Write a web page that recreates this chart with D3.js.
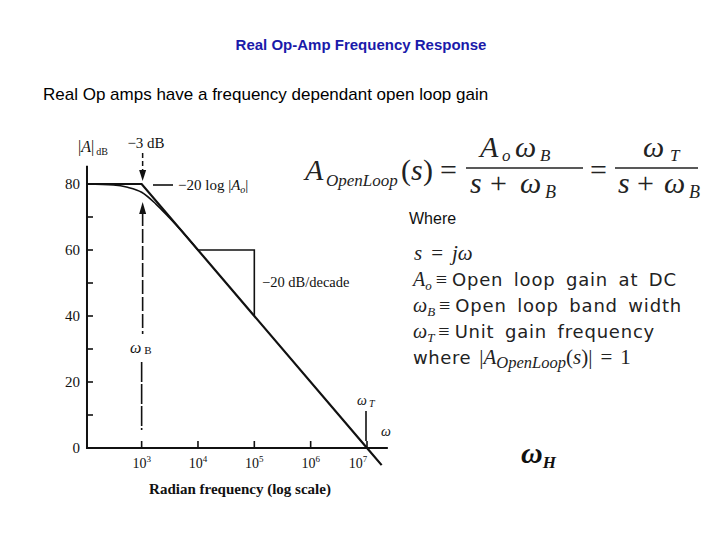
<!DOCTYPE html>
<html>
<head>
<meta charset="utf-8">
<script src="https://cdn.jsdelivr.net/npm/d3@7"></script>
<style>
  body { margin: 0; background: #fff; }
</style>
</head>
<body>
<script>
let w = 720;
let h = 540;

// axis ticks
const freqTicks = [1e3, 1e4, 1e5, 1e6, 1e7];
const freqExp = ["3", "4", "5", "6", "7"];
const gainTicks = [0, 20, 40, 60, 80];
const gainMinor = [10, 30, 50, 70];

// straight-line (asymptotic) response
const asymFreq = [10 ** 2.03, 1e3, 1e7, 10 ** 7.26];
const asymGain = [80, 80, 0, -5.2];

// real response near the corner
const realFreq = [10 ** 2.03, 10 ** 2.5, 10 ** 2.75, 1e3, 10 ** 3.25, 10 ** 3.5, 10 ** 3.75, 1e4];
const realGain = [80, 79.7, 79, 77.5, 74, 69.6, 65, 60];

const defs = [
  { math: "A", sub: "o", text: "Open loop gain at DC" },
  { math: "ω", sub: "B", text: "Open loop band width" },
  { math: "ω", sub: "T", text: "Unit gain frequency" },
];

let svg = d3.select("body").append("svg").attr("width", w).attr("height", h);

//scales
let x = d3.scaleLog().domain([1e2, 1e7]).range([85.3, 367]);
let y = d3.scaleLinear().domain([0, 80]).range([448, 184]);

const serif = "'Liberation Serif', 'Times New Roman', serif";
const sans = "'Liberation Sans', Arial, sans-serif";
const dsans = "'DejaVu Sans', sans-serif";

//titles
svg.append("text")
  .attr("x", 361).attr("y", 50)
  .attr("text-anchor", "middle")
  .attr("font-family", sans).attr("font-weight", "bold").attr("font-size", 15)
  .attr("fill", "#1a1aaa")
  .text("Real Op-Amp Frequency Response");

svg.append("text")
  .attr("x", 43).attr("y", 100)
  .attr("font-family", sans).attr("font-size", 17)
  .attr("fill", "#000")
  .text("Real Op amps have a frequency dependant open loop gain");

//axes
let chart = svg.append("g").attr("stroke", "#111").attr("fill", "none");

chart.append("line")
  .attr("x1", x(10 ** 2.03)).attr("x2", x(10 ** 2.03))
  .attr("y1", y(85.5)).attr("y2", y(0) + 1)
  .attr("stroke-width", 2);

chart.append("line")
  .attr("x1", x(10 ** 2.03)).attr("x2", x(10 ** 7.37))
  .attr("y1", y(0)).attr("y2", y(0))
  .attr("stroke-width", 2);

chart.selectAll(".ytick")
  .data(gainTicks.concat(gainMinor))
  .enter()
  .append("line")
  .attr("x1", x(10 ** 2.03)).attr("x2", x(10 ** 2.03) + 6)
  .attr("y1", function (d) { return y(d); })
  .attr("y2", function (d) { return y(d); })
  .attr("stroke-width", 1.6);

chart.selectAll(".xtick")
  .data(freqTicks)
  .enter()
  .append("line")
  .attr("x1", function (d) { return x(d); })
  .attr("x2", function (d) { return x(d); })
  .attr("y1", y(0)).attr("y2", y(0) - 7)
  .attr("stroke-width", 1.6);

//tick labels
svg.selectAll(".ylab")
  .data(gainTicks)
  .enter()
  .append("text")
  .attr("x", 80)
  .attr("y", function (d) { return y(d) + 5; })
  .attr("text-anchor", "end")
  .attr("font-family", serif).attr("font-size", 15)
  .attr("fill", "#111")
  .text(function (d) { return d; });

let xl = svg.selectAll(".xlab")
  .data(freqTicks)
  .enter()
  .append("text")
  .attr("x", function (d, i) { return x(d) + (i === 4 ? -9 : 0); })
  .attr("y", 468)
  .attr("text-anchor", "middle")
  .attr("font-family", serif).attr("font-size", 14)
  .attr("fill", "#111");
xl.append("tspan").text("10");
xl.append("tspan")
  .attr("dy", -6).attr("font-size", 9)
  .text(function (d, i) { return freqExp[i]; });

svg.append("text")
  .attr("x", 240).attr("y", 494)
  .attr("text-anchor", "middle")
  .attr("font-family", serif).attr("font-size", 15).attr("font-weight", "bold")
  .attr("fill", "#111")
  .text("Radian frequency (log scale)");

//response lines
let line = d3.line()
  .x(function (d) { return x(d[0]); })
  .y(function (d) { return y(d[1]); });

chart.append("path")
  .datum(asymFreq.map(function (f, i) { return [f, asymGain[i]]; }))
  .attr("d", line)
  .attr("stroke-width", 2.2);

chart.append("path")
  .datum(realFreq.map(function (f, i) { return [f, realGain[i]]; }))
  .attr("d", line.curve(d3.curveMonotoneX))
  .attr("stroke-width", 1.6);

//slope triangle
chart.append("path")
  .attr("d", "M" + x(1e4) + "," + y(60) + "H" + x(1e5) + "V" + y(40))
  .attr("stroke-width", 1.6);

svg.append("text")
  .attr("x", 262).attr("y", 287)
  .attr("font-family", serif).attr("font-size", 14.5)
  .attr("fill", "#111")
  .text("−20 dB/decade");

//axis title |A|dB
let ya = svg.append("text")
  .attr("x", 78).attr("y", 152)
  .attr("font-family", serif).attr("font-size", 16)
  .attr("fill", "#111");
ya.append("tspan").text("|");
ya.append("tspan").attr("font-style", "italic").text("A");
ya.append("tspan").text("|");
ya.append("tspan").attr("font-size", 10).attr("dy", 3).attr("dx", 2).text("dB");

// -3 dB marker
svg.append("text")
  .attr("x", 146).attr("y", 148)
  .attr("text-anchor", "middle")
  .attr("font-family", serif).attr("font-size", 15)
  .attr("fill", "#111")
  .text("−3 dB");

chart.append("line")
  .attr("x1", x(1e3) + 1).attr("x2", x(1e3) + 1)
  .attr("y1", 153).attr("y2", 172)
  .attr("stroke-dasharray", "5,3")
  .attr("stroke-width", 1.5);
svg.append("path")
  .attr("d", d3.line()([[x(1e3) - 2.5, 170], [x(1e3) + 4.5, 170], [x(1e3) + 1, 181]]))
  .attr("fill", "#111");

// leader to -20 log|Ao|
chart.append("line")
  .attr("x1", 153).attr("x2", 173)
  .attr("y1", y(80) + 1).attr("y2", y(80) + 1)
  .attr("stroke-width", 1.6);

let lg = svg.append("text")
  .attr("x", 178).attr("y", 190)
  .attr("font-family", serif).attr("font-size", 15)
  .attr("fill", "#111");
lg.append("tspan").text("−20 log |");
lg.append("tspan").attr("font-style", "italic").text("A");
lg.append("tspan").attr("font-style", "italic").attr("font-size", 10).attr("dy", 3).text("o");
lg.append("tspan").attr("dy", -3).text("|");

// wB marker
svg.append("path")
  .attr("d", d3.line()([[x(1e3) - 2.5, 214], [x(1e3) + 4.5, 214], [x(1e3) + 1, 202]]))
  .attr("fill", "#111");
chart.append("line")
  .attr("x1", x(1e3) + 1).attr("x2", x(1e3) + 1)
  .attr("y1", 212).attr("y2", 334)
  .attr("stroke-dasharray", "14,3")
  .attr("stroke-width", 1.6);
chart.append("line")
  .attr("x1", x(1e3)).attr("x2", x(1e3))
  .attr("y1", 362).attr("y2", 430)
  .attr("stroke-dasharray", "20,2")
  .attr("stroke-width", 1.6);

let wb = svg.append("text")
  .attr("x", 130).attr("y", 353)
  .attr("font-family", serif).attr("font-size", 16)
  .attr("fill", "#111");
wb.append("tspan").attr("font-style", "italic").text("ω");
wb.append("tspan").attr("font-size", 11).attr("dx", 3).attr("dy", 1).text("B");

// wT marker
chart.append("line")
  .attr("x1", x(1e7) - 1).attr("x2", x(1e7) - 1)
  .attr("y1", 411).attr("y2", 441)
  .attr("stroke-width", 1.6);

let wt = svg.append("text")
  .attr("x", 357).attr("y", 405)
  .attr("font-family", serif).attr("font-size", 14)
  .attr("fill", "#111");
wt.append("tspan").attr("font-style", "italic").text("ω");
wt.append("tspan").attr("font-style", "italic").attr("font-size", 10).attr("dx", 2).attr("dy", 2).text("T");

svg.append("text")
  .attr("x", 381).attr("y", 436)
  .attr("font-family", serif).attr("font-size", 14).attr("font-style", "italic")
  .attr("fill", "#111")
  .text("ω");

//equation, pieces placed like the typeset original
let eq = svg.append("g")
  .attr("font-family", serif).attr("fill", "#222").attr("font-size", 30);

function piece(px, py, str, opts) {
  let t = eq.append("text").attr("x", px).attr("y", py).text(str);
  if (opts && opts.it) t.attr("font-style", "italic");
  if (opts && opts.size) t.attr("font-size", opts.size);
  return t;
}

piece(305, 180, "A", { it: true });
piece(326, 186, "OpenLoop", { it: true, size: 17 });
piece(401, 180, "(");
piece(411, 180, "s", { it: true });
piece(423, 180, ")");
piece(440, 180, "=");
piece(590, 180, "=");

eq.append("line").attr("x1", 466).attr("x2", 583).attr("y1", 168).attr("y2", 168)
  .attr("stroke", "#222").attr("stroke-width", 1.5);
eq.append("line").attr("x1", 615).attr("x2", 698).attr("y1", 168).attr("y2", 168)
  .attr("stroke", "#222").attr("stroke-width", 1.5);

// numerators
piece(480, 157, "A", { it: true });
piece(502, 161, "o", { it: true, size: 17 });
piece(515, 157, "ω", { it: true });
piece(540, 161, "B", { it: true, size: 17 });
piece(643, 157, "ω", { it: true });
piece(670, 161, "T", { it: true, size: 17 });

// denominators
piece(470, 193, "s", { it: true });
piece(490, 193, "+");
piece(520, 193, "ω", { it: true });
piece(545, 198, "B", { it: true, size: 18 });

piece(618, 193, "s", { it: true });
piece(637, 193, "+");
piece(664, 193, "ω", { it: true });
piece(689, 198, "B", { it: true, size: 18 });

//definitions
svg.append("text")
  .attr("x", 409).attr("y", 224)
  .attr("font-family", sans).attr("font-size", 16)
  .attr("fill", "#111")
  .text("Where");

let ds = svg.append("g").attr("fill", "#222");

let s0 = ds.append("text").attr("x", 414).attr("y", 260).attr("font-family", serif).attr("font-size", 21);
s0.append("tspan").attr("font-style", "italic").text("s");
s0.append("tspan").attr("dx", 9).text("=");
s0.append("tspan").attr("dx", 9).attr("font-style", "italic").text("jω");

defs.forEach(function (d, i) {
  let t = ds.append("text").attr("x", 413).attr("y", 286 + i * 26).attr("font-size", 20);
  t.append("tspan").attr("font-family", serif).attr("font-style", "italic").text(d.math);
  t.append("tspan").attr("font-family", serif).attr("font-style", "italic")
    .attr("font-size", 13).attr("dy", 4).text(d.sub);
  t.append("tspan").attr("font-family", serif).attr("dy", -4).attr("dx", 4).text("≡");
  t.append("tspan").attr("font-family", dsans).attr("font-size", 18).attr("dx", 5)
    .attr("word-spacing", 4).attr("letter-spacing", 0.8)
    .text(d.text);
});

let wh = ds.append("text").attr("x", 413).attr("y", 364).attr("font-size", 21);
wh.append("tspan").attr("font-family", dsans).attr("font-size", 18).attr("letter-spacing", 0.6).text("where");
wh.append("tspan").attr("font-family", serif).attr("dx", 8).text("|");
wh.append("tspan").attr("font-family", serif).attr("font-style", "italic").text("A");
wh.append("tspan").attr("font-family", serif).attr("font-style", "italic").attr("font-size", 16.5).attr("dy", 4).text("OpenLoop");
wh.append("tspan").attr("font-family", serif).attr("dy", -4).text("(");
wh.append("tspan").attr("font-family", serif).attr("font-style", "italic").text("s");
wh.append("tspan").attr("font-family", serif).text(")|");
wh.append("tspan").attr("font-family", serif).attr("dx", 8).text("=");
wh.append("tspan").attr("font-family", serif).attr("dx", 8).text("1");

//omega H
let oh = svg.append("text")
  .attr("x", 521).attr("y", 463)
  .attr("font-family", serif).attr("font-style", "italic").attr("font-weight", "bold")
  .attr("font-size", 30).attr("fill", "#111");
oh.append("tspan").text("ω");
oh.append("tspan").attr("font-size", 17).attr("dy", 5).text("H");
</script>
</body>
</html>
